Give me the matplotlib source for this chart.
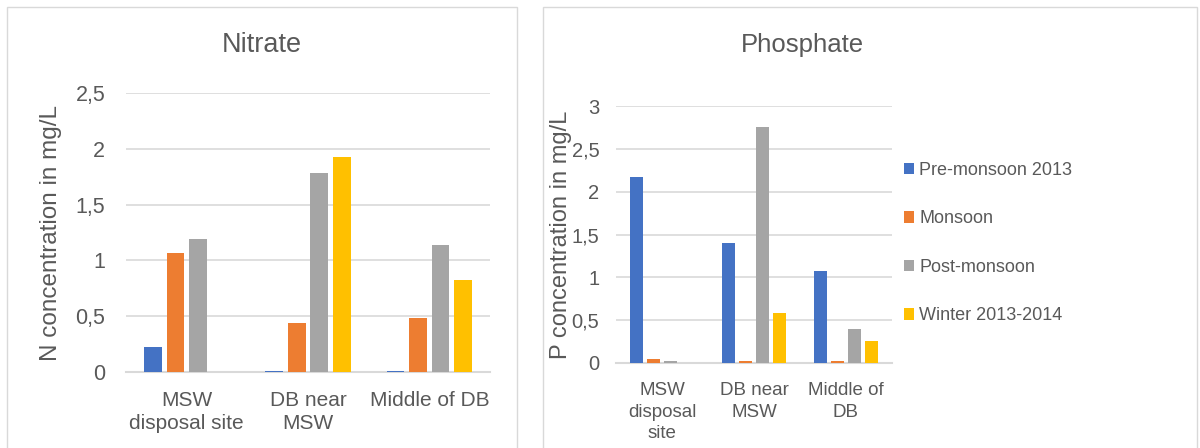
import numpy as np
import matplotlib
matplotlib.use("Agg")
import matplotlib.pyplot as plt
from matplotlib.patches import Rectangle

# -------------------------------
# Data
# -------------------------------
series = ["Pre-monsoon 2013", "Monsoon", "Post-monsoon", "Winter 2013-2014"]
colors = ["#4472C4", "#ED7D31", "#A5A5A5", "#FFC000"]

nitrate_sites = ["MSW\ndisposal site", "DB near\nMSW", "Middle of DB"]
nitrate = [
    [0.22, 0.01, 0.01],   # Pre-monsoon 2013
    [1.07, 0.44, 0.48],   # Monsoon
    [1.19, 1.78, 1.14],   # Post-monsoon
    [0.0, 1.93, 0.82],    # Winter 2013-2014
]
nitrate_ticks = [0, 0.5, 1, 1.5, 2, 2.5]
nitrate_ticklabels = ["0", "0,5", "1", "1,5", "2", "2,5"]

phosphate_sites = ["MSW\ndisposal\nsite", "DB near\nMSW", "Middle of\nDB"]
phosphate = [
    [2.17, 1.40, 1.07],   # Pre-monsoon 2013
    [0.05, 0.02, 0.02],   # Monsoon
    [0.02, 2.75, 0.40],   # Post-monsoon
    [0.0, 0.58, 0.26],    # Winter 2013-2014
]
phosphate_ticks = [0, 0.5, 1, 1.5, 2, 2.5, 3]
phosphate_ticklabels = ["0", "0,5", "1", "1,5", "2", "2,5", "3"]

TEXT = "#595959"
GRID = "#D9D9D9"
plt.rcParams["font.family"] = ["Liberation Sans", "DejaVu Sans"]

fig = plt.figure(figsize=(12, 4.48), dpi=100)

# panel borders
fig.patches.append(Rectangle((7 / 1200, -0.05), 510 / 1200, 1.05 - 7 / 448,
                             transform=fig.transFigure, fill=False,
                             edgecolor=GRID, lw=1))
fig.patches.append(Rectangle((543 / 1200, -0.05), 654 / 1200, 1.05 - 7 / 448,
                             transform=fig.transFigure, fill=False,
                             edgecolor=GRID, lw=1))


def draw_panel(ax, sites, values, ticks, ticklabels, ylabel, tick_fs,
               cat_fs, cat_pad, ytick_pad, linesp, label_x, label_fs):
    x = np.arange(len(sites))
    step = 0.186
    width = 0.145
    for i, vals in enumerate(values):
        ax.bar(x + (i - 1.5) * step, vals, width, color=colors[i],
               label=series[i], zorder=3)
    ax.set_xlim(-0.5, len(sites) - 0.5)
    ax.set_ylim(0, ticks[-1])
    ax.set_yticks(ticks)
    ax.set_yticklabels(ticklabels, fontsize=tick_fs, color=TEXT)
    ax.set_xticks(x)
    ax.set_xticklabels(sites, fontsize=cat_fs, color=TEXT, linespacing=linesp)
    ax.tick_params(axis="both", length=0)
    ax.tick_params(axis="x", pad=cat_pad)
    ax.tick_params(axis="y", pad=ytick_pad)
    ax.grid(axis="y", color=GRID, lw=1.2, zorder=0)
    for s in ["top", "right", "left"]:
        ax.spines[s].set_visible(False)
    ax.spines["bottom"].set_color(GRID)
    ax.spines["bottom"].set_linewidth(1.5)
    ax.set_ylabel(ylabel, fontsize=label_fs, color=TEXT)
    ax.yaxis.set_label_coords(label_x, 0.5)


ax1 = fig.add_axes([126 / 1200, 1 - 372 / 448, 364 / 1200, 279 / 448])
draw_panel(ax1, nitrate_sites, nitrate, nitrate_ticks, nitrate_ticklabels,
           "N concentration in mg/L", 15.5, 15, 13.5, 15, 1.27, -0.176, 17.5)

ax2 = fig.add_axes([616 / 1200, 1 - 363 / 448, 276 / 1200, 257 / 448])
draw_panel(ax2, phosphate_sites, phosphate, phosphate_ticks,
           phosphate_ticklabels, "P concentration in mg/L", 14.5, 13.5, 14,
           12, 1.33, -0.16, 17)

fig.text(262 / 1200, 1 - 45 / 448, "Nitrate", ha="center", va="center",
         fontsize=19.5, color=TEXT)
fig.text(802 / 1200, 1 - 45 / 448, "Phosphate", ha="center", va="center",
         fontsize=18.5, color=TEXT)

handles, labels = ax2.get_legend_handles_labels()
fig.legend(handles, labels, loc="center left",
           bbox_to_anchor=(904 / 1200, 1 - 243 / 448), frameon=False,
           fontsize=13, labelcolor=TEXT, handlelength=0.55, handleheight=0.6,
           handletextpad=0.3, labelspacing=1.75, borderpad=0,
           borderaxespad=0)

fig.savefig("out.png", dpi=100)
